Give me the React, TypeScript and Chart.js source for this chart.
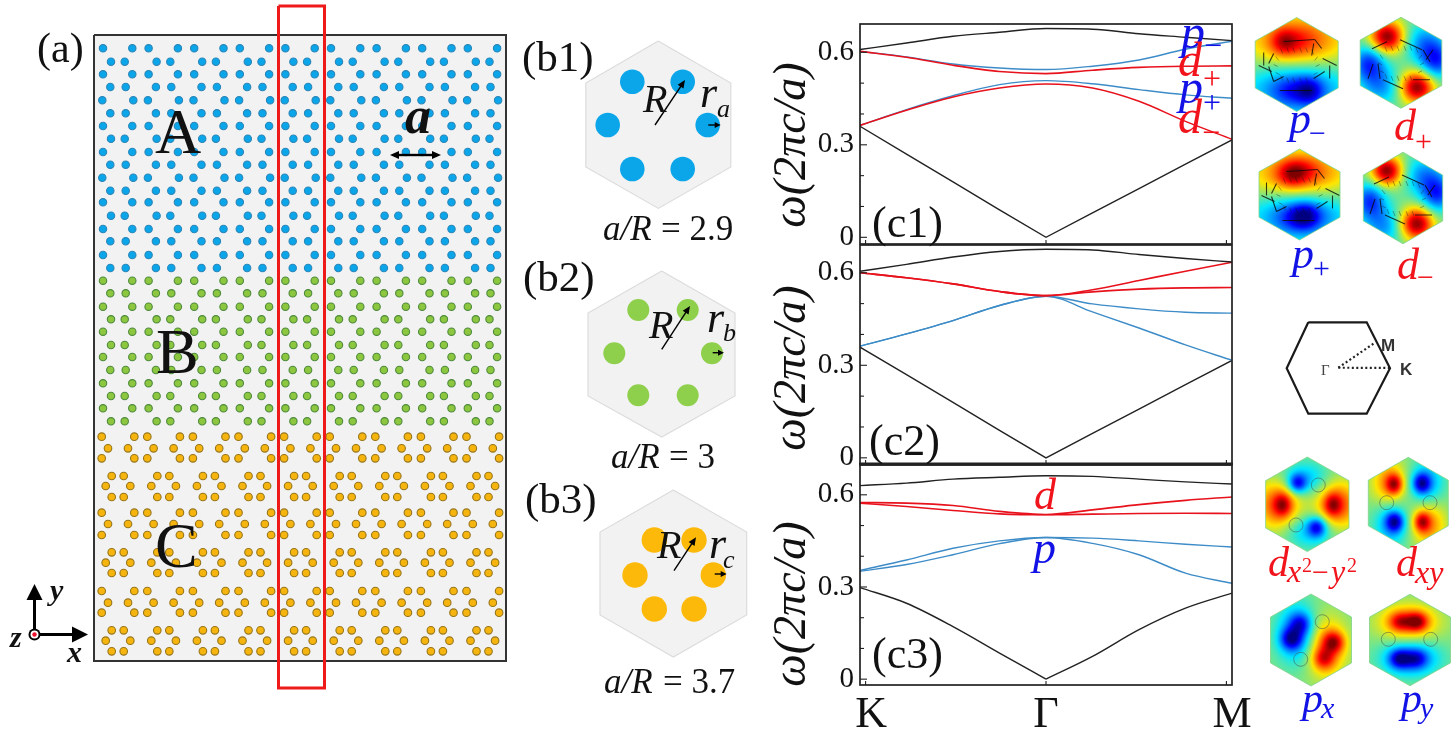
import React, { useEffect, useRef } from "react";
import { Chart, registerables } from "chart.js";

Chart.register(...registerables);

/* ---------- panel (a): lattice rows ---------- */
const wideA = [103, 132.3, 148.6, 177.9, 194.2, 223.5, 239.8, 269.1, 285.4, 314.7, 331, 360.3, 376.6, 405.9, 422.2, 451.5, 467.8, 497.1];
const wideB = [102.3, 133.3, 147.9, 178.9, 193.5, 224.5, 239.1, 270.1, 284.7, 315.7, 330.3, 361.3, 375.9, 406.9, 421.5, 452.5, 467.1, 498.1];
const narrowA = [111, 124.7, 156.6, 170.3, 202.2, 215.9, 247.8, 261.5, 293.4, 307.1, 339, 352.7, 384.6, 398.3, 430.2, 443.9, 475.8, 489.5];
const narrowB = [110.3, 125.7, 155.9, 171.3, 201.5, 216.9, 247.1, 262.5, 292.7, 308.1, 338.3, 353.7, 383.9, 399.3, 429.5, 444.9, 475.1, 490.5];
const ringTop = [101.7, 134.3, 147.3, 179.9, 192.9, 225.5, 238.5, 271.1, 284.1, 316.7, 329.7, 362.3, 375.3, 407.9, 420.9, 453.5, 466.5, 499.1];
const ringSideB = [108, 128, 153.6, 173.6, 199.2, 219.2, 244.8, 264.8, 290.4, 310.4, 336, 356, 381.6, 401.6, 427.2, 447.2, 472.8, 492.8];
const ringCap = [111.7, 123.7, 157.3, 169.3, 202.9, 214.9, 248.5, 260.5, 294.1, 306.1, 339.7, 351.7, 385.3, 397.3, 430.9, 442.9, 476.5, 488.5];
const ringSideA = [105.7, 130.3, 151.3, 175.9, 196.9, 221.5, 242.5, 267.1, 288.1, 312.7, 333.7, 358.3, 379.3, 403.9, 424.9, 449.5, 470.5, 495.1];

const blueRows: [number, number[]][] = [
  [48.3, wideA], [61.7, narrowA], [74.3, wideA], [87, narrowB], [100.3, wideB], [113.3, narrowB],
  [126, wideA], [138.7, narrowA], [152, wideA], [164.7, narrowB], [177.7, wideB], [190.7, narrowB],
  [202.3, wideA], [215.7, narrowA], [229, wideA], [241.3, narrowB], [255, wideA], [268, narrowB],
];
const greenRows: [number, number[]][] = [
  [280.7, wideA], [293.3, narrowB], [306.7, wideA], [319.3, narrowA], [331.7, wideA], [345, narrowA],
  [357, wideA], [370, narrowB], [383.3, wideA], [396, narrowA], [408.3, wideA], [421.3, narrowA],
];
const orangeRows: [number, number[]][] = [
  [436.7, ringTop], [448.3, ringSideB], [458.3, ringTop], [476, ringCap], [486, ringSideA], [497, ringCap],
  [512.7, ringTop], [524, ringSideB], [535, ringTop], [552.3, ringCap], [562.7, ringSideA], [573, ringCap],
  [591, ringTop], [602.7, ringSideB], [612.7, ringTop], [630.3, ringCap], [640.7, ringSideA], [651.3, ringCap],
];

/* ---------- panels (b): unit cells ---------- */
const cellB1 = [[658.3, 41], [730.8, 83], [730.8, 167], [658.3, 208.4], [585.8, 167], [585.8, 83], [658.3, 41]];
const cellB2 = [[661.7, 271], [735, 313], [735, 396], [661.7, 437], [588, 396], [588, 313], [661.7, 271]];
const cellB3 = [[673.3, 490], [746.7, 532], [746.7, 615], [673.3, 657], [600, 615], [600, 532], [673.3, 490]];
const rodsB1 = [[632.3, 81.7], [682.7, 81.7], [607.7, 125], [707.7, 125], [632.3, 169], [682.7, 169]];
const rodsB2 = [[638.3, 310], [687.7, 310], [614.3, 353.3], [712, 353.3], [638.3, 395.3], [687.7, 395.3]];
const rodsB3 = [[654.3, 540], [694, 540], [635, 575], [713.3, 575], [654.3, 609], [694, 609]];

/* ---------- panels (c): band structure ---------- */
const kPath = [0, 0.25, 0.5, 0.75, 1, 1.25, 1.5, 1.75, 2];
const kToGamma = [0, 0.25, 0.5, 0.75, 1];
const gammaToM = [1, 1.25, 1.5, 1.75, 2];
const yTicks = [0, 0.3, 0.6];

const c1Upper = [0.609, 0.63, 0.652, 0.665, 0.677, 0.675, 0.66, 0.649, 0.638];
const c1PMinus = [0.603, 0.585, 0.562, 0.549, 0.544, 0.555, 0.575, 0.61, 0.636];
const c1DPlus = [0.603, 0.584, 0.558, 0.538, 0.531, 0.542, 0.551, 0.555, 0.556];
const c1PPlus = [0.363, 0.414, 0.459, 0.495, 0.508, 0.498, 0.479, 0.462, 0.451];
const c1DMinus = [0.363, 0.412, 0.455, 0.484, 0.497, 0.484, 0.441, 0.376, 0.318];
const c1Lower = [0.36, 0.27, 0.18, 0.089, 0, 0.079, 0.158, 0.237, 0.316];

const c2Upper = [0.605, 0.627, 0.651, 0.669, 0.676, 0.674, 0.659, 0.646, 0.635];
const c2RedA = [0.6, 0.584, 0.564, 0.539, 0.526, 0.545, 0.575, 0.605, 0.634];
const c2RedB = [0.6, 0.584, 0.564, 0.539, 0.526, 0.538, 0.547, 0.551, 0.552];
const c2BlueA = [0.362, 0.402, 0.445, 0.494, 0.524, 0.499, 0.483, 0.472, 0.469];
const c2BlueB = [0.362, 0.402, 0.445, 0.494, 0.524, 0.473, 0.421, 0.366, 0.316];
const c2Lower = [0.359, 0.27, 0.18, 0.089, 0, 0.079, 0.158, 0.237, 0.316];

const c3Upper = [0.63, 0.638, 0.651, 0.657, 0.662, 0.66, 0.651, 0.642, 0.635];
const c3RedA = [0.575, 0.573, 0.565, 0.546, 0.536, 0.551, 0.568, 0.582, 0.593];
const c3RedB = [0.573, 0.562, 0.549, 0.538, 0.535, 0.537, 0.539, 0.54, 0.539];
const c3BlueA = [0.354, 0.388, 0.426, 0.45, 0.461, 0.459, 0.45, 0.439, 0.43];
const c3BlueB = [0.351, 0.373, 0.405, 0.441, 0.461, 0.442, 0.405, 0.345, 0.312];
const c3LowerLeft = [0.298, 0.247, 0.171, 0.085, 0];
const c3LowerRight = [0, 0.074, 0.161, 0.231, 0.28];

/* ---------- field maps: blobs [cx, cy, amplitude, sx, sy] ---------- */
const fieldPMinus = [[-0.32, -0.48, 0.4, 0.22, 0.2], [0.1, -0.5, 0.15, 0.3, 0.22], [0.3, 0.55, -0.4, 0.22, 0.2], [-0.15, 0.55, -0.2, 0.3, 0.2], [0, -0.5, 0.58, 0.85, 0.42], [0, 0.5, -0.58, 0.85, 0.42]];
const fieldDPlus = [[-0.35, -0.58, 0.98, 0.29, 0.24], [0.38, 0.52, 0.98, 0.29, 0.24], [-0.8, 0, -0.62, 0.28, 0.28], [0.85, -0.05, -0.62, 0.28, 0.28], [0.55, -0.45, -0.42, 0.35, 0.3], [-0.5, 0.5, -0.42, 0.35, 0.3]];
const fieldPPlus = [[-0.2, -0.45, 0.4, 0.25, 0.2], [0.1, -0.55, 0.2, 0.3, 0.2], [0.15, 0.45, -0.4, 0.25, 0.2], [-0.1, 0.5, -0.2, 0.3, 0.2], [0, -0.45, 0.58, 0.85, 0.4], [0, 0.45, -0.58, 0.85, 0.4]];
const fieldDMinus = [[-0.42, -0.6, 0.98, 0.27, 0.22], [0.33, 0.55, 0.98, 0.29, 0.24], [-0.85, 0.05, -0.62, 0.28, 0.28], [0.85, -0.1, -0.62, 0.28, 0.28], [0.5, -0.5, -0.42, 0.35, 0.3], [-0.5, 0.6, -0.42, 0.35, 0.3]];
const fieldDx2y2 = [[-0.6, 0, 0.42, 0.14, 0.16], [0.6, 0, 0.42, 0.14, 0.16], [-0.7, 0, 0.62, 0.36, 0.36], [0.7, 0, 0.62, 0.36, 0.36], [-0.25, -0.45, -0.6, 0.15, 0.14], [0.22, 0.47, -0.6, 0.15, 0.14], [-0.05, -0.55, -0.35, 0.42, 0.25], [0.05, 0.55, -0.35, 0.42, 0.25]];
const fieldDxy = [[-0.36, -0.42, 0.6, 0.14, 0.15], [-0.5, -0.45, 0.45, 0.3, 0.35], [0.32, -0.44, -0.65, 0.15, 0.15], [0.45, -0.45, -0.4, 0.3, 0.35], [-0.35, 0.4, -0.65, 0.15, 0.15], [-0.45, 0.45, -0.4, 0.3, 0.35], [0.33, 0.4, 0.6, 0.14, 0.15], [0.5, 0.45, 0.45, 0.3, 0.35]];
const fieldPx = [[-0.5, -0.03, -0.6, 0.18, 0.16], [-0.27, -0.36, -0.45, 0.18, 0.16], [-0.35, -0.15, -0.52, 0.35, 0.45], [0.55, 0.04, 0.6, 0.18, 0.16], [0.3, 0.4, 0.45, 0.18, 0.16], [0.35, 0.15, 0.52, 0.35, 0.45]];
const fieldPy = [[0.16, -0.41, 0.6, 0.18, 0.14], [-0.26, -0.41, 0.42, 0.18, 0.14], [-0.05, -0.4, 0.52, 0.5, 0.27], [-0.26, 0.4, -0.6, 0.18, 0.14], [0.15, 0.4, -0.42, 0.18, 0.14], [0, 0.4, -0.52, 0.5, 0.27]];

const flowP = [[-13, -23, 18, -25], [18, -25, 25, -16], [-23, -11, -28, -1], [-33, -12, -33, 1], [-38, 1, -25, 7], [-17, 26, 15, 26], [-23, 17, -13, 12], [17, 14, 28, 7], [26, -6, 40, 1], [33, 1, 33, 14], [15, -9, 17, -21], [-28, 2, -23, 17]];
const flowD = [[-29, -14, -14, -21], [-1, -23, 21, -13], [22, -13, 29, -1], [-28, 1, -33, 16], [-23, 1, -21, 16], [-18, 17, 2, 26], [12, 17, 29, 17], [32, -13, 25, -3]];
const flowFine = [[-16, -16, -14, -11], [-10, -17, -8, -12], [-4, -17, -2, -12], [3, -17, 5, -12], [9, -17, 11, -12], [15, -15, 17, -10], [21, -8, 18, -4], [23, 0, 19, 2], [21, 8, 17, 10], [-16, 11, -14, 16], [-10, 13, -8, 18], [-4, 13, -2, 18], [3, 13, 5, 18], [9, 13, 11, 18], [-21, -8, -18, -4], [-23, 0, -19, 2], [-21, 8, -17, 10]];

const heatPanels = [
  { cx: 1296.7, cy: 64.5, hw: 41.5, hh: 47, blobs: fieldPMinus, flow: flowP, holes: [] as number[][] },
  { cx: 1401, cy: 62.8, hw: 40.8, hh: 45.5, blobs: fieldDPlus, flow: flowD, holes: [] as number[][] },
  { cx: 1299.5, cy: 194.5, hw: 40.5, hh: 45.5, blobs: fieldPPlus, flow: flowP, holes: [] as number[][] },
  { cx: 1403, cy: 198, hw: 39.7, hh: 45.8, blobs: fieldDMinus, flow: flowD, holes: [] as number[][] },
  { cx: 1307.3, cy: 504.3, hw: 41.7, hh: 47.3, blobs: fieldDx2y2, flow: [], holes: [[1318.3, 485], [1296, 525]] },
  { cx: 1408.3, cy: 503, hw: 40, hh: 45.7, blobs: fieldDxy, flow: [], holes: [[1386.7, 502.7], [1430, 502.7]] },
  { cx: 1311, cy: 640, hw: 40.5, hh: 46, blobs: fieldPx, flow: [], holes: [[1322.3, 621.7], [1300.7, 659.3]] },
  { cx: 1410, cy: 640, hw: 40.5, hh: 45.8, blobs: fieldPy, flow: [], holes: [[1388.3, 639.3], [1430.7, 639.3]] },
];

/* ---------- annotations ---------- */
const SERIF = '"Liberation Serif"';
const RED = "#f2141c";
const BLUE = "#1212e6";
const INK = "#111";
type Note = { t: string; x: number; y: number; s: number; f?: string; c?: string; rot?: boolean; sans?: boolean };
const notes: Note[] = [
  { t: "(a)", x: 37, y: 62, s: 42 },
  { t: "A", x: 155, y: 153, s: 64 },
  { t: "B", x: 156, y: 373, s: 64 },
  { t: "C", x: 155, y: 567, s: 64 },
  { t: "a", x: 405, y: 133, s: 52, f: "italic bold" },
  { t: "y", x: 50, y: 600, s: 30, f: "italic bold" },
  { t: "x", x: 67, y: 662, s: 30, f: "italic bold" },
  { t: "z", x: 10, y: 647, s: 30, f: "italic bold" },
  { t: "(b1)", x: 522, y: 71, s: 43 },
  { t: "(b2)", x: 523, y: 291, s: 43 },
  { t: "(b3)", x: 525, y: 513, s: 43 },
  { t: "R", x: 643, y: 112, s: 40, f: "italic" },
  { t: "r", x: 700, y: 107, s: 44, f: "italic" },
  { t: "a", x: 717, y: 117, s: 26, f: "italic" },
  { t: "R", x: 649, y: 338, s: 40, f: "italic" },
  { t: "r", x: 707, y: 332, s: 44, f: "italic" },
  { t: "b", x: 723, y: 341, s: 26, f: "italic" },
  { t: "R", x: 657, y: 558, s: 40, f: "italic" },
  { t: "r", x: 709, y: 558, s: 44, f: "italic" },
  { t: "c", x: 723, y: 568, s: 26, f: "italic" },
  { t: "a/R", x: 603, y: 240, s: 35, f: "italic" },
  { t: "= 2.9", x: 661, y: 240, s: 35 },
  { t: "a/R", x: 611, y: 468, s: 35, f: "italic" },
  { t: "= 3", x: 669, y: 468, s: 35 },
  { t: "a/R", x: 604, y: 693, s: 35, f: "italic" },
  { t: "= 3.7", x: 663, y: 693, s: 35 },
  { t: "ω(2πc/a)", x: 805, y: 145, s: 46, f: "italic", rot: true },
  { t: "ω(2πc/a)", x: 805, y: 368, s: 46, f: "italic", rot: true },
  { t: "ω(2πc/a)", x: 805, y: 604, s: 46, f: "italic", rot: true },
  { t: "(c1)", x: 872, y: 237, s: 44 },
  { t: "(c2)", x: 869, y: 455, s: 44 },
  { t: "(c3)", x: 872, y: 668, s: 44 },
  { t: "p", x: 1181, y: 48, s: 48, f: "italic", c: BLUE },
  { t: "−", x: 1204, y: 56, s: 32, c: BLUE },
  { t: "d", x: 1178, y: 76, s: 48, f: "italic", c: RED },
  { t: "+", x: 1203, y: 89, s: 32, c: RED },
  { t: "p", x: 1179, y: 103, s: 48, f: "italic", c: BLUE },
  { t: "+", x: 1203, y: 113, s: 32, c: BLUE },
  { t: "d", x: 1178, y: 133, s: 48, f: "italic", c: RED },
  { t: "−", x: 1202, y: 143, s: 32, c: RED },
  { t: "d", x: 1034, y: 509, s: 44, f: "italic", c: RED },
  { t: "p", x: 1033, y: 563, s: 46, f: "italic", c: BLUE },
  { t: "p", x: 1289, y: 133, s: 44, f: "italic", c: BLUE },
  { t: "−", x: 1309, y: 143, s: 30, c: BLUE },
  { t: "d", x: 1394, y: 140, s: 44, f: "italic", c: RED },
  { t: "+", x: 1415, y: 151, s: 30, c: RED },
  { t: "p", x: 1292, y: 268, s: 44, f: "italic", c: BLUE },
  { t: "+", x: 1313, y: 278, s: 30, c: BLUE },
  { t: "d", x: 1397, y: 279, s: 44, f: "italic", c: RED },
  { t: "−", x: 1417, y: 287, s: 30, c: RED },
  { t: "d", x: 1268, y: 576, s: 42, f: "italic", c: RED },
  { t: "x", x: 1287, y: 582, s: 32, f: "italic", c: RED },
  { t: "2", x: 1302, y: 572, s: 20, c: RED },
  { t: "−", x: 1312, y: 582, s: 30, c: RED },
  { t: "y", x: 1331, y: 582, s: 32, f: "italic", c: RED },
  { t: "2", x: 1347, y: 572, s: 20, c: RED },
  { t: "d", x: 1396, y: 576, s: 42, f: "italic", c: RED },
  { t: "xy", x: 1415, y: 583, s: 32, f: "italic", c: RED },
  { t: "p", x: 1302, y: 712, s: 42, f: "italic", c: BLUE },
  { t: "x", x: 1321, y: 718, s: 30, f: "italic", c: BLUE },
  { t: "p", x: 1401, y: 712, s: 42, f: "italic", c: BLUE },
  { t: "y", x: 1420, y: 718, s: 30, f: "italic", c: BLUE },
  { t: "M", x: 1381, y: 351, s: 17, f: "bold", c: "#333", sans: true },
  { t: "K", x: 1400, y: 375, s: 17, f: "bold", c: "#333", sans: true },
  { t: "Γ", x: 1321, y: 375, s: 15, c: "#444" },
];
// x0, y0, x1, y1, shaft width, head length, head half width
const arrows = [
  [655, 125, 685, 80, 1.4, 8, 3.5], [708.3, 125, 720.7, 125, 1.4, 6, 3],
  [661.7, 349.3, 690, 306, 1.4, 8, 3.5], [712.7, 352.7, 724, 352.7, 1.4, 6, 3],
  [674, 570.7, 696, 537.3, 1.4, 8, 3.5], [714.7, 574, 726.7, 574, 1.4, 6, 3],
  [34.5, 635, 34.5, 584, 3, 16, 8], [35, 634.5, 88, 634.5, 3, 16, 8],
  [415, 155, 390, 155, 2.4, 9, 4], [415, 155, 441, 155, 2.4, 9, 4],
];

const panelFrame = [[94, 35], [506, 35], [506, 661], [94, 661], [94, 35]];
const redBox = [[278.5, 6], [324.5, 6], [324.5, 688], [278.5, 688], [278.5, 6]];
const zoneHex = [[1308.3, 322.3], [1366.7, 322.3], [1390, 368.3], [1366.7, 413.7], [1308.3, 413.7], [1286.7, 368.3], [1308.3, 322.3]];
const zoneK = [[1338.3, 367.7], [1390, 368]];
const zoneM = [[1338.3, 367.7], [1374, 343.3]];
const originOuter = [[34.5, 634.5]];

const toXY = (pts: number[][]) => pts.map(([x, y]) => ({ x, y }));
const rowsToXY = (rows: [number, number[]][]) => rows.flatMap(([y, xs]) => xs.map((x) => ({ x, y })));

const clamp01 = (v: number) => Math.max(0, Math.min(1, v));
const jet = (t: number) => [clamp01(1.5 - Math.abs(4 * t - 3)), clamp01(1.5 - Math.abs(4 * t - 2)) * 0.9, clamp01(1.5 - Math.abs(4 * t - 1))];

const hexPath = (ctx: CanvasRenderingContext2D, cx: number, cy: number, hw: number, hh: number) => {
  ctx.beginPath();
  ctx.moveTo(cx, cy - hh);
  ctx.lineTo(cx + hw, cy - hh / 2);
  ctx.lineTo(cx + hw, cy + hh / 2);
  ctx.lineTo(cx, cy + hh);
  ctx.lineTo(cx - hw, cy + hh / 2);
  ctx.lineTo(cx - hw, cy - hh / 2);
  ctx.closePath();
};

const heatPlugin = {
  id: "heat",
  beforeDatasetsDraw(chart: any) {
    const { ctx, scales } = chart;
    for (const p of heatPanels) {
      const cx = scales.x.getPixelForValue(p.cx);
      const cy = scales.y.getPixelForValue(p.cy);
      const w = Math.ceil(p.hw * 2) + 2;
      const h = Math.ceil(p.hh * 2) + 2;
      const off = document.createElement("canvas");
      off.width = w;
      off.height = h;
      const octx = off.getContext("2d") as CanvasRenderingContext2D;
      const img = octx.createImageData(w, h);
      for (let j = 0; j < h; j++) {
        for (let i = 0; i < w; i++) {
          const nx = (i - w / 2) / p.hw;
          const ny = (j - h / 2) / p.hh;
          let v = 0;
          for (const [bx, by, amp, sx, sy] of p.blobs) {
            v += amp * Math.exp(-((nx - bx) ** 2) / (2 * sx * sx) - ((ny - by) ** 2) / (2 * sy * sy));
          }
          const [r, g, b] = jet(clamp01((v + 1) / 2));
          const k = (j * w + i) * 4;
          img.data[k] = r * 255;
          img.data[k + 1] = g * 255;
          img.data[k + 2] = b * 255;
          img.data[k + 3] = 255;
        }
      }
      octx.putImageData(img, 0, 0);
      ctx.save();
      hexPath(ctx, cx, cy, p.hw, p.hh);
      ctx.clip();
      ctx.drawImage(off, cx - w / 2, cy - h / 2);
      if (p.flow.length) {
        ctx.strokeStyle = "rgba(20,20,20,0.45)";
        ctx.lineWidth = 0.8;
        for (const [x0, y0, x1, y1] of flowFine) {
          ctx.beginPath();
          ctx.moveTo(cx + x0, cy + y0);
          ctx.lineTo(cx + x1, cy + y1);
          ctx.stroke();
        }
      }
      ctx.strokeStyle = "rgba(10,10,10,0.8)";
      ctx.lineWidth = 1.1;
      for (const [x0, y0, x1, y1] of p.flow) {
        ctx.beginPath();
        ctx.moveTo(cx + x0, cy + y0);
        ctx.lineTo(cx + x1, cy + y1);
        ctx.stroke();
      }
      ctx.strokeStyle = "rgba(70,90,80,0.55)";
      ctx.lineWidth = 1;
      for (const [hx, hy] of p.holes) {
        ctx.beginPath();
        ctx.arc(scales.x.getPixelForValue(hx), scales.y.getPixelForValue(hy), 7, 0, Math.PI * 2);
        ctx.stroke();
      }
      ctx.restore();
      hexPath(ctx, cx, cy, p.hw, p.hh);
      ctx.strokeStyle = "rgba(130,210,140,0.8)";
      ctx.lineWidth = 1;
      ctx.stroke();
    }
  },
};

const notesPlugin = {
  id: "notes",
  afterDatasetsDraw(chart: any) {
    const { ctx, scales } = chart;
    ctx.save();
    for (const [x0, y0, x1, y1, lw, hl, hw] of arrows) {
      const ax = scales.x.getPixelForValue(x0);
      const ay = scales.y.getPixelForValue(y0);
      const bx = scales.x.getPixelForValue(x1);
      const by = scales.y.getPixelForValue(y1);
      const ang = Math.atan2(by - ay, bx - ax);
      ctx.strokeStyle = "#000";
      ctx.fillStyle = "#000";
      ctx.lineWidth = lw;
      ctx.beginPath();
      ctx.moveTo(ax, ay);
      ctx.lineTo(bx - hl * Math.cos(ang) * 0.8, by - hl * Math.sin(ang) * 0.8);
      ctx.stroke();
      ctx.beginPath();
      ctx.moveTo(bx, by);
      ctx.lineTo(bx - hl * Math.cos(ang) + hw * Math.sin(ang), by - hl * Math.sin(ang) - hw * Math.cos(ang));
      ctx.lineTo(bx - hl * Math.cos(ang) - hw * Math.sin(ang), by - hl * Math.sin(ang) + hw * Math.cos(ang));
      ctx.closePath();
      ctx.fill();
    }
    // origin marker of the coordinate axes
    for (const [ox, oy] of originOuter) {
      const px = scales.x.getPixelForValue(ox);
      const py = scales.y.getPixelForValue(oy);
      ctx.fillStyle = "#000";
      ctx.beginPath();
      ctx.arc(px, py, 6, 0, Math.PI * 2);
      ctx.fill();
      ctx.fillStyle = "#fff";
      ctx.beginPath();
      ctx.arc(px, py, 4, 0, Math.PI * 2);
      ctx.fill();
      ctx.fillStyle = "#f01030";
      ctx.beginPath();
      ctx.arc(px, py, 2.2, 0, Math.PI * 2);
      ctx.fill();
    }
    ctx.textBaseline = "alphabetic";
    for (const n of notes) {
      const px = scales.x.getPixelForValue(n.x);
      const py = scales.y.getPixelForValue(n.y);
      const family = n.sans ? '"Liberation Sans"' : SERIF;
      ctx.font = `${n.f ? n.f + " " : ""}${n.s}px ${family}`;
      ctx.fillStyle = n.c || INK;
      if (n.rot) {
        ctx.save();
        ctx.translate(px, py);
        ctx.rotate(-Math.PI / 2);
        ctx.textAlign = "center";
        ctx.fillText(n.t, 0, 0);
        ctx.restore();
      } else {
        ctx.textAlign = "left";
        ctx.fillText(n.t, px, py);
      }
    }
    ctx.restore();
  },
};

const framePlugin = (heavyBottom: boolean) => ({
  id: "bandFrame",
  afterDatasetsDraw(chart: any) {
    const { ctx, chartArea: a, scales } = chart;
    ctx.save();
    ctx.strokeStyle = "#222";
    ctx.lineWidth = 1.7;
    ctx.strokeRect(a.left, a.top, a.right - a.left, a.bottom - a.top);
    if (heavyBottom) {
      ctx.lineWidth = 2.8;
      ctx.beginPath();
      ctx.moveTo(a.left - 1, a.bottom);
      ctx.lineTo(a.right + 1, a.bottom);
      ctx.stroke();
    }
    ctx.lineWidth = 1.1;
    for (const v of [0, 0.1, 0.2, 0.3, 0.4, 0.5, 0.6]) {
      const py = scales.y.getPixelForValue(v);
      const len = yTicks.includes(v) ? 7 : 4;
      ctx.beginPath();
      ctx.moveTo(a.left, py);
      ctx.lineTo(a.left + len, py);
      ctx.stroke();
    }
    for (const v of [0.03, 1, 1.97]) {
      const px = scales.x.getPixelForValue(v);
      ctx.beginPath();
      ctx.moveTo(px, a.bottom);
      ctx.lineTo(px, a.bottom - 4);
      ctx.stroke();
    }
    ctx.restore();
  },
});

const band = (label: string, values: number[], color: string, tension?: number, xs: number[] = kPath) => ({
  label,
  data: xs.map((x, i) => ({ x, y: values[i] })),
  showLine: true,
  borderColor: color,
  borderWidth: color === "#e8121c" ? 1.6 : 1.4,
  pointRadius: 0,
  fill: false,
  ...(tension !== undefined ? { tension } : { cubicInterpolationMode: "monotone" as const }),
});

const BLACK = "#222";
const REDLINE = "#e8121c";
const BLUELINE = "#3d8cc8";

function bandChart(canvas: HTMLCanvasElement, series: any[], yMin: number, yMax: number, withLabels: boolean, heavyBottom: boolean, bottomPad: number) {
  const xLabels: Record<string, string> = { "0.06": "K", "1": "Γ", "2": "M" };
  const noPad = (s: any) => {
    s.paddingLeft = 0;
    s.paddingRight = 0;
    s.paddingTop = 0;
    s.paddingBottom = 0;
  };
  return new Chart(canvas, {
    type: "scatter",
    data: { datasets: series },
    options: {
      animation: false,
      responsive: false,
      devicePixelRatio: 1,
      layout: { autoPadding: false, padding: { top: 4, right: 28, bottom: bottomPad, left: 0 } },
      plugins: { legend: { display: false }, tooltip: { enabled: false } },
      scales: {
        x: {
          type: "linear",
          min: 0,
          max: 2,
          grid: { display: false, drawTicks: false },
          border: { display: false },
          afterBuildTicks: (s: any) => {
            s.ticks = [{ value: 0.06 }, { value: 1 }, { value: 2 }];
          },
          afterFit: (s: any) => {
            s.height = withLabels ? 51 : 0;
            noPad(s);
          },
          ticks: {
            display: withLabels,
            autoSkip: false,
            maxRotation: 0,
            padding: 4,
            color: "#111",
            font: { family: "Liberation Serif", size: 44 },
            callback: (v: any) => xLabels[String(v)] ?? "",
          },
        },
        y: {
          type: "linear",
          min: yMin,
          max: yMax,
          grid: { display: false, drawTicks: false },
          border: { display: false },
          afterBuildTicks: (s: any) => {
            s.ticks = yTicks.map((value) => ({ value }));
          },
          afterFit: (s: any) => {
            s.width = 90;
            noPad(s);
          },
          ticks: {
            autoSkip: false,
            padding: 6,
            color: "#111",
            font: { family: "Liberation Serif", size: 29 },
            callback: (v: any) => (v === 0 ? "0" : Number(v).toFixed(1)),
          },
        },
      },
    },
    plugins: [framePlugin(heavyBottom)],
  } as any);
}

const lineSet = (data: number[][], color: string, width: number, order: number, extra: any = {}) => ({
  data: toXY(data),
  showLine: true,
  tension: 0,
  borderColor: color,
  borderWidth: width,
  pointRadius: 0,
  order,
  ...extra,
});
const cellSet = (data: number[][], order: number) =>
  lineSet(data, "#dcdcdc", 1.2, order, { fill: "shape", backgroundColor: "#f2f2f2" });
const rodSet = (data: number[][], color: string, radius: number, order: number) => ({
  data: toXY(data),
  showLine: false,
  pointRadius: radius,
  pointBackgroundColor: color,
  pointBorderWidth: 0,
  order,
});
const latticeSet = (rows: [number, number[]][], fill: string, edge: string, radius: number) => ({
  data: rowsToXY(rows),
  showLine: false,
  pointRadius: radius,
  pointBackgroundColor: fill,
  pointBorderColor: edge,
  pointBorderWidth: 1.1,
  order: 5,
});

export default function App() {
  const sceneRef = useRef<HTMLCanvasElement>(null);
  const c1Ref = useRef<HTMLCanvasElement>(null);
  const c2Ref = useRef<HTMLCanvasElement>(null);
  const c3Ref = useRef<HTMLCanvasElement>(null);

  useEffect(() => {
    const charts: Chart[] = [];
    charts.push(
      bandChart(c1Ref.current as HTMLCanvasElement, [
        band("upper", c1Upper, BLACK),
        band("d+", c1DPlus, REDLINE),
        band("p-", c1PMinus, BLUELINE),
        band("d-", c1DMinus, REDLINE),
        band("p+", c1PPlus, BLUELINE),
        band("lower", c1Lower, BLACK, 0),
      ], -0.0217, 0.6918, false, false, 4),
      bandChart(c2Ref.current as HTMLCanvasElement, [
        band("upper", c2Upper, BLACK),
        band("d a", c2RedA, REDLINE),
        band("d b", c2RedB, REDLINE),
        band("p a", c2BlueA, BLUELINE),
        band("p b", c2BlueB, BLUELINE),
        band("lower", c2Lower, BLACK, 0),
      ], -0.02, 0.69, false, true, 4),
      bandChart(c3Ref.current as HTMLCanvasElement, [
        band("upper", c3Upper, BLACK),
        band("d a", c3RedA, REDLINE),
        band("d b", c3RedB, REDLINE),
        band("p a", c3BlueA, BLUELINE),
        band("p b", c3BlueB, BLUELINE),
        band("lower K-Γ", c3LowerLeft, BLACK, undefined, kToGamma),
        band("lower Γ-M", c3LowerRight, BLACK, undefined, gammaToM),
      ], -0.019, 0.697, true, false, 0),
    );
    charts.push(
      new Chart(sceneRef.current as HTMLCanvasElement, {
        type: "scatter",
        data: {
          datasets: [
            lineSet(redBox, "#ee1a1a", 3, 1),
            latticeSet(blueRows, "#0ba6ea", "#2b86b8", 3.7),
            latticeSet(greenRows, "#8dc63f", "#4d8a3c", 3.7),
            latticeSet(orangeRows, "#f6b40e", "#96751a", 3.8),
            lineSet(panelFrame, "#333", 2, 6),
            lineSet(panelFrame, "rgba(0,0,0,0)", 0, 7, { fill: "shape", backgroundColor: "#f2f2f2" }),
            rodSet(rodsB1, "#0ba6ea", 12.3, 3),
            rodSet(rodsB2, "#8ecf4c", 11, 3),
            rodSet(rodsB3, "#fdb90a", 12.7, 3),
            cellSet(cellB1, 4),
            cellSet(cellB2, 4),
            cellSet(cellB3, 4),
            lineSet(zoneHex, "#1a1a1a", 2.2, 2),
            lineSet(zoneK, "#222", 2.2, 2, { borderDash: [2, 2.5] }),
            lineSet(zoneM, "#222", 2.2, 2, { borderDash: [2, 2.5] }),
          ],
        },
        options: {
          animation: false,
          responsive: false,
          devicePixelRatio: 1,
          layout: { autoPadding: false, padding: 0 },
          plugins: { legend: { display: false }, tooltip: { enabled: false } },
          scales: {
            x: { type: "linear", min: 0, max: 1456, display: false },
            y: { type: "linear", min: 0, max: 736, reverse: true, display: false },
          },
        },
        plugins: [heatPlugin, notesPlugin],
      } as any),
    );
    return () => charts.forEach((c) => c.destroy());
  }, []);

  const abs = (left: number, top: number): React.CSSProperties => ({ position: "absolute", left, top, display: "block" });
  return (
    <div style={{ position: "fixed", left: 0, top: 0, width: 1456, height: 736, background: "#fff", overflow: "hidden" }}>
      <canvas ref={c1Ref} width={490} height={228} style={abs(770, 20)} />
      <canvas ref={c2Ref} width={490} height={227} style={abs(770, 241)} />
      <canvas ref={c3Ref} width={490} height={275} style={abs(770, 461)} />
      <canvas ref={sceneRef} width={1456} height={736} style={abs(0, 0)} />
    </div>
  );
}
